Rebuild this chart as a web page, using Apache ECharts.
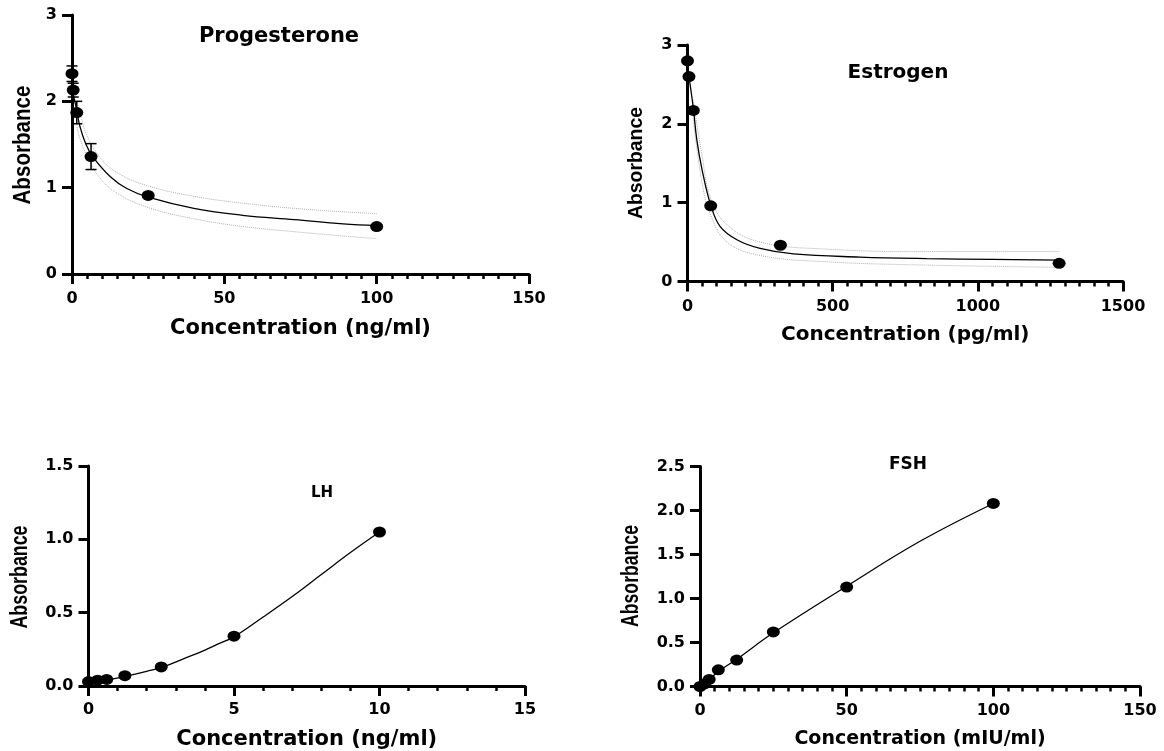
<!DOCTYPE html>
<html>
<head>
<meta charset="utf-8">
<script src="https://cdn.jsdelivr.net/npm/echarts@6/dist/echarts.min.js"></script>
<style>
html,body{margin:0;padding:0;background:#fff;}
#c{width:1164px;height:751px;}
</style>
</head>
<body>
<div id="c"></div>
<script>
// ---------- Data ----------
// Progesterone
var progConc = [0, 0.39, 1.56, 6.25, 25, 100];
var progAbs  = [2.32, 2.13, 1.87, 1.36, 0.91, 0.55];
var progErr  = [0.09, 0.08, 0.13, 0.15, 0.02, 0.02];
var progFitX = [0.39, 1.3, 2.6, 4.5, 6.8, 12.5, 18, 25, 40, 56, 73, 89, 100];
var progFitY = [2.08, 1.94, 1.71, 1.51, 1.36, 1.13, 0.99, 0.89, 0.76, 0.68, 0.63, 0.58, 0.56];
var progBandX = [1.56, 2.6, 5, 9.2, 15, 25, 40, 56, 73, 89, 100];
var progUpY   = [2.0, 1.86, 1.60, 1.35, 1.17, 1.02, 0.90, 0.82, 0.76, 0.72, 0.70];
var progLoY   = [1.72, 1.57, 1.36, 1.11, 0.93, 0.77, 0.64, 0.55, 0.49, 0.44, 0.41];

// Estrogen
var estConc = [0, 5, 20, 80, 320, 1280];
var estAbs  = [2.80, 2.60, 2.17, 0.96, 0.46, 0.23];
var estFitX = [5, 12, 20, 32, 50, 80, 112, 170, 250, 365, 594, 824, 1053, 1280];
var estFitY = [2.60, 2.42, 2.20, 1.80, 1.42, 0.97, 0.70, 0.53, 0.42, 0.35, 0.31, 0.29, 0.28, 0.27];
var estBandX = [20, 50, 80, 136, 250, 480, 800, 1280];
var estUpY   = [2.30, 1.60, 1.05, 0.72, 0.50, 0.41, 0.38, 0.38];
var estLoY   = [2.05, 1.25, 0.84, 0.50, 0.33, 0.25, 0.21, 0.18];

// LH
var lhConc = [0, 0.3125, 0.625, 1.25, 2.5, 5, 10];
var lhAbs  = [0.03, 0.04, 0.045, 0.07, 0.13, 0.34, 1.05];
var lhFitX = [0, 0.6, 1.25, 2.0, 2.5, 3.2, 4.0, 4.5, 5, 6, 7, 8, 9, 10];
var lhFitY = [0.025, 0.04, 0.065, 0.10, 0.125, 0.18, 0.245, 0.29, 0.335, 0.47, 0.61, 0.76, 0.91, 1.05];

// FSH
var fshConc = [0, 1.5625, 3.125, 6.25, 12.5, 25, 50, 100];
var fshAbs  = [0, 0.03, 0.08, 0.19, 0.30, 0.62, 1.13, 2.08];
var fshFitX = [0, 3.125, 6.25, 12.5, 25, 50, 75, 100];
var fshFitY = [0, 0.08, 0.17, 0.31, 0.61, 1.14, 1.65, 2.08];

// Titles / labels
var titles = ['Progesterone', 'Estrogen', 'LH', 'FSH'];
var xNames = ['Concentration (ng/ml)', 'Concentration (pg/ml)', 'Concentration (ng/ml)', 'Concentration (mIU/ml)'];
var yName = 'Absorbance';

// ---------- Helpers ----------
function pairs(xs, ys) { return xs.map(function (x, i) { return [x, ys[i]]; }); }

var TXT = '"DejaVu Sans", "Liberation Sans", sans-serif';
var ARIAL = '"Liberation Sans", Arial, sans-serif';

function xAxisCfg(idx, max, interval, minorSplit, nameSize, nameGap, labelMargin) {
  return {
    type: 'value', gridIndex: idx, min: 0, max: max, interval: interval,
    name: xNames[idx], nameLocation: 'middle', nameGap: nameGap,
    nameTextStyle: { fontFamily: TXT, fontWeight: 'bold', fontSize: nameSize, color: '#000' },
    axisLine: { show: true, onZero: false, lineStyle: { color: '#000', width: 3 } },
    axisTick: { show: true, length: 10, lineStyle: { color: '#000', width: 3 } },
    minorTick: { show: true, splitNumber: minorSplit, length: 5, lineStyle: { color: '#000', width: 2.5 } },
    splitLine: { show: false },
    axisLabel: {
      fontFamily: TXT, fontWeight: 'bold', fontSize: 16, color: '#000', margin: labelMargin,
      formatter: function (v) { return String(v); }
    }
  };
}
function yAxisCfg(idx, max, interval, dec) {
  return {
    type: 'value', gridIndex: idx, min: 0, max: max, interval: interval,
    axisLine: { show: true, onZero: false, lineStyle: { color: '#000', width: 3 } },
    axisTick: { show: true, length: 10, lineStyle: { color: '#000', width: 3 } },
    splitLine: { show: false },
    axisLabel: {
      fontFamily: TXT, fontWeight: 'bold', fontSize: 16, color: '#000', margin: 15,
      formatter: function (v) { return dec ? v.toFixed(dec) : String(v); }
    }
  };
}
function scatter(idx, xs, ys) {
  return {
    type: 'scatter', xAxisIndex: idx, yAxisIndex: idx, data: pairs(xs, ys),
    symbol: 'circle', symbolSize: [13, 11], itemStyle: { color: '#000', opacity: 1 }, z: 5, silent: true
  };
}
function fit(idx, xs, ys) {
  return {
    type: 'line', xAxisIndex: idx, yAxisIndex: idx, data: pairs(xs, ys), smooth: 0.4,
    showSymbol: false, symbol: 'none', lineStyle: { color: '#000', width: 1.3 }, z: 3, silent: true
  };
}
function band(idx, xs, ys) {
  return {
    type: 'line', xAxisIndex: idx, yAxisIndex: idx, data: pairs(xs, ys), smooth: 0.4,
    showSymbol: false, symbol: 'none', lineStyle: { color: '#b0b0b0', width: 1, type: 'dotted' }, z: 2, silent: true
  };
}
// rotated y-axis title (condensed Arial-like look via horizontal scale along the text)
function yTitle(cx, cy, size, squeeze) {
  return {
    type: 'text', x: cx, y: cy, rotation: Math.PI / 2, scaleX: squeeze, scaleY: 1,
    style: { text: yName, font: 'bold ' + size + 'px ' + ARIAL, fill: '#000', align: 'center', verticalAlign: 'middle' }
  };
}
function title(cx, cy, size, text) {
  return {
    type: 'text', x: cx, y: cy,
    style: { text: text, font: 'bold ' + size + 'px ' + TXT, fill: '#000', align: 'center', verticalAlign: 'middle' }
  };
}

var chart = echarts.init(document.getElementById('c'), null, { renderer: 'canvas' });

var option = {
  animation: false,
  backgroundColor: '#fff',
  grid: [
    { left: 72, right: 635, top: 15, bottom: 477 },
    { left: 687.5, right: 41, top: 45, bottom: 469.5 },
    { left: 88.5, right: 639, top: 466, bottom: 64.5 },
    { left: 700, right: 24, top: 466.5, bottom: 64.5 }
  ],
  xAxis: [
    xAxisCfg(0, 150, 50, 10, 21, 44, 17),
    xAxisCfg(1, 1500, 500, 10, 20, 43, 17),
    xAxisCfg(2, 15, 5, 5, 21, 43, 16),
    xAxisCfg(3, 150, 50, 10, 19, 43, 16)
  ],
  yAxis: [
    yAxisCfg(0, 3, 1, 0),
    yAxisCfg(1, 3, 1, 0),
    yAxisCfg(2, 1.5, 0.5, 1),
    yAxisCfg(3, 2.5, 0.5, 1)
  ],
  graphic: [
    title(279, 37, 21, titles[0]),
    title(898, 73, 20, titles[1]),
    title(322, 493, 15, titles[2]),
    title(908, 465, 17, titles[3]),
    yTitle(23, 145, 24, 0.858),
    yTitle(636, 163, 21, 0.923),
    yTitle(20.5, 577, 23, 0.775),
    yTitle(631.5, 576, 24, 0.735)
  ],
  series: [
    band(0, progBandX, progUpY),
    band(0, progBandX, progLoY),
    fit(0, progFitX, progFitY),
    {
      type: 'custom', xAxisIndex: 0, yAxisIndex: 0, silent: true, z: 4,
      data: progConc.map(function (x, i) { return [x, progAbs[i], progErr[i]]; }),
      renderItem: function (params, api) {
        var x = api.value(0), y = api.value(1), e = api.value(2);
        var top = api.coord([x, y + e]), bot = api.coord([x, y - e]);
        var hw = 5.5;
        var st = { stroke: '#000', lineWidth: 1.5 };
        return {
          type: 'group',
          children: [
            { type: 'line', shape: { x1: top[0], y1: top[1], x2: bot[0], y2: bot[1] }, style: st },
            { type: 'line', shape: { x1: top[0] - hw, y1: top[1], x2: top[0] + hw, y2: top[1] }, style: st },
            { type: 'line', shape: { x1: bot[0] - hw, y1: bot[1], x2: bot[0] + hw, y2: bot[1] }, style: st }
          ]
        };
      }
    },
    scatter(0, progConc, progAbs),

    band(1, estBandX, estUpY),
    band(1, estBandX, estLoY),
    fit(1, estFitX, estFitY),
    scatter(1, estConc, estAbs),

    fit(2, lhFitX, lhFitY),
    scatter(2, lhConc, lhAbs),

    fit(3, fshFitX, fshFitY),
    scatter(3, fshConc, fshAbs)
  ]
};
chart.setOption(option);
</script>
</body>
</html>
